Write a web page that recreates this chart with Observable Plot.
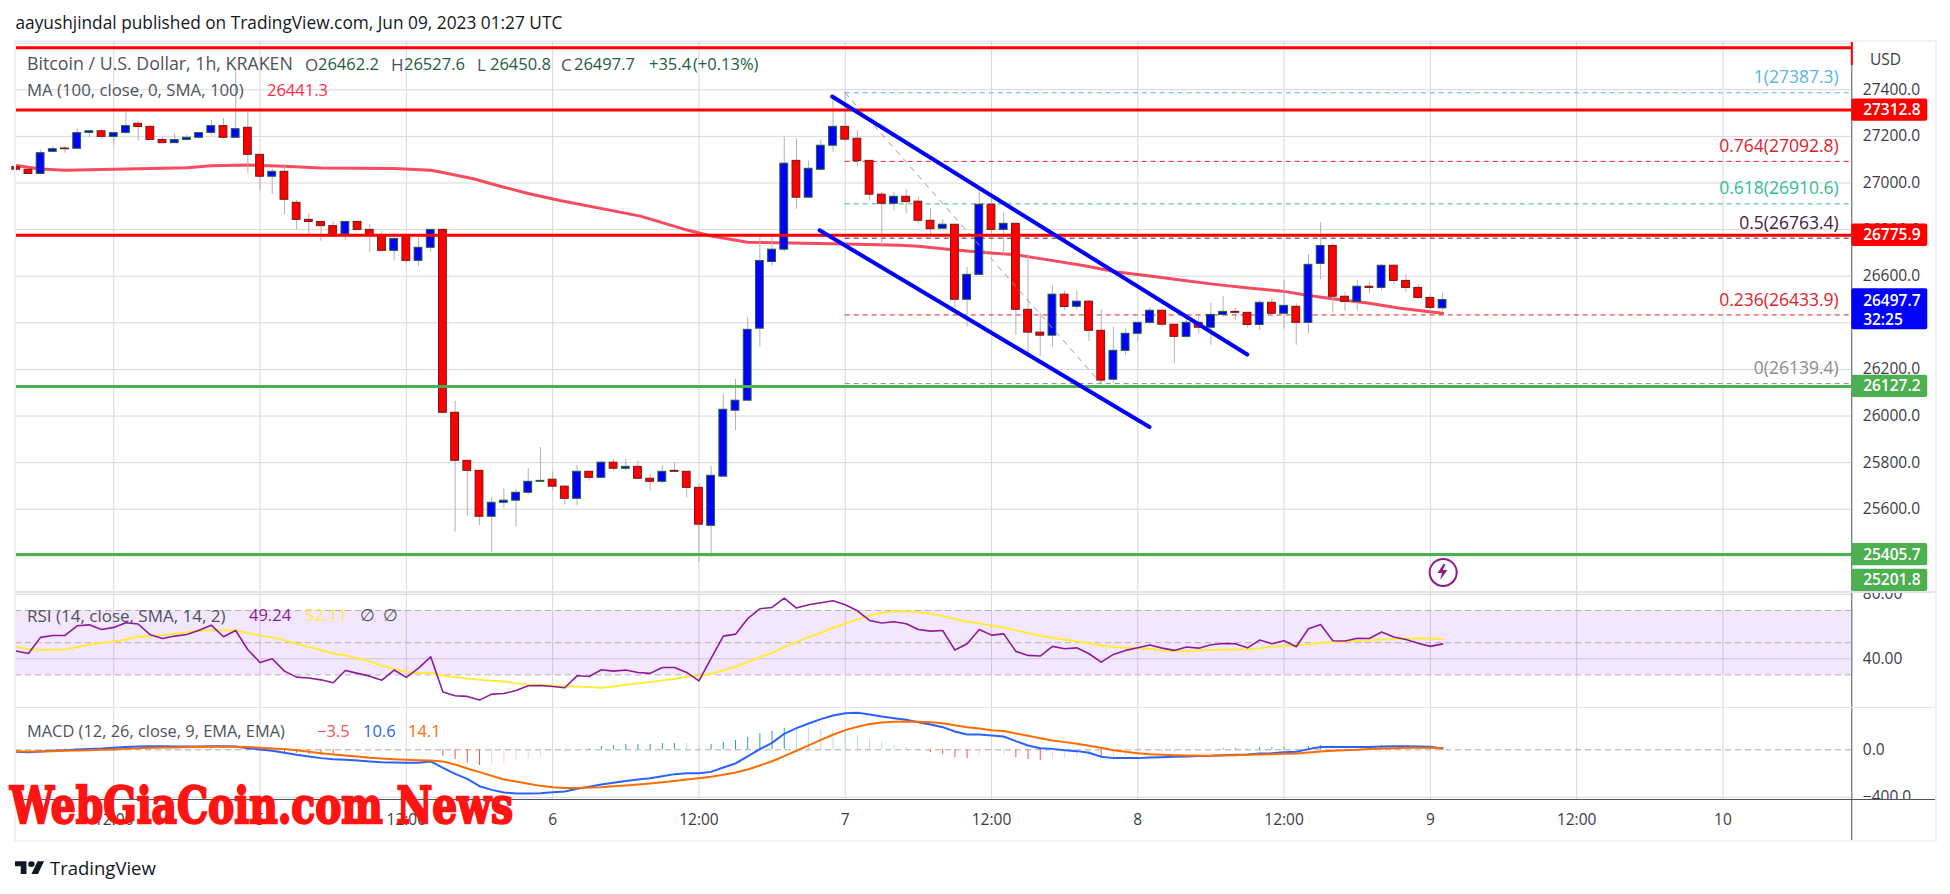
<!DOCTYPE html>
<html><head><meta charset="utf-8">
<script src="https://cdn.jsdelivr.net/npm/d3@7"></script>
<script src="https://cdn.jsdelivr.net/npm/@observablehq/plot@0.6"></script>
<style>
html,body{margin:0;padding:0;background:#fff;}
#page{position:relative;width:1950px;height:894px;overflow:hidden;font-family:"Open Sans",sans-serif;background:#fff;}
#page>svg{position:absolute;left:0;background:transparent;overflow:hidden;}
.t{position:absolute;white-space:nowrap;transform:translateY(-50%);line-height:1;}
.c{position:absolute;}
</style></head><body><div id="page"></div>
<script>
// Hour index: hours since Jun 4 00:00 UTC. First visible candle is hour 4.
const firstHour = 4;
const open = [
27068,27057,27039,27134,27148,27147,27215,27222,27198,27215,
27254,27241,27185,27171,27185,27194,27215,27244,27194,27237,
27121,27027,27048,26915,26842,26833,26815,26779,26833,26799,
26773,26709,26773,26666,26722,26799,26014,25808,25765,25568,
25628,25637,25671,25718,25727,25697,25645,25761,25735,25800,
25774,25782,25731,25718,25765,25761,25692,25529,25740,26023,
26066,26375,26661,26714,27095,26937,27057,27160,27241,27190,
27095,26950,26911,26941,26920,26838,26804,26821,26499,26606,
26907,26799,26825,26456,26358,26345,26521,26469,26491,26366,
26156,26280,26353,26400,26452,26392,26340,26400,26379,26434,
26447,26443,26391,26486,26439,26469,26400,26653,26730,26512,
26490,26555,26550,26645,26580,26550,26507,26462.2];
const close = [
27057,27039,27128,27145,27145,27214,27222,27198,27214,27244,
27240,27185,27171,27184,27194,27214,27244,27194,27231,27121,
27027,27048,26928,26842,26833,26815,26771,26833,26799,26773,
26709,26760,26666,26722,26799,26014,25808,25765,25568,25628,
25637,25671,25718,25722,25697,25645,25761,25735,25800,25774,
25782,25731,25718,25761,25761,25692,25534,25744,26027,26066,
26370,26665,26714,27083,26937,27061,27160,27241,27186,27094,
26950,26911,26941,26918,26838,26802,26821,26499,26606,26907,
26799,26825,26456,26358,26345,26521,26468,26491,26366,26152,
26280,26353,26400,26452,26392,26340,26400,26379,26434,26447,
26443,26391,26486,26439,26473,26400,26649,26730,26512,26490,
26555,26550,26645,26580,26550,26507,26464,26497.7];
const high = [
27070,27060,27142,27157,27157,27232,27225,27228,27214,27304,
27265,27245,27197,27211,27205,27218,27268,27277,27490,27304,
27121,27059,27079,26925,26868,26833,26833,26833,26833,26822,
26791,26782,26782,26762,26799,26803,26063,25808,25765,25651,
25690,25685,25775,25865,25761,25702,25787,25761,25805,25814,
25814,25808,25752,25787,25800,25761,25709,25784,26093,26157,
26422,26768,26768,27197,27190,27093,27183,27361,27387.3,27224,
27095,26960,26960,26972,26940,26891,26842,26821,26638,26968,
26940,26872,26825,26692,26439,26561,26536,26536,26496,26458,
26382,26372,26400,26465,26452,26392,26425,26425,26483,26513,
26464,26443,26496,26503,26582,26482,26693,26831,26739,26529,
26582,26573,26650,26650,26606,26565,26520,26527.6];
const low = [
27050,27039,27039,27131,27128,27145,27194,27188,27162,27208,
27180,27185,27168,27171,27182,27194,27205,27188,27194,27042,
26968,26951,26865,26799,26779,26750,26771,26753,26799,26703,
26709,26665,26653,26642,26703,26014,25502,25571,25531,25416,
25605,25524,25661,25718,25678,25618,25614,25721,25735,25764,
25764,25727,25678,25708,25761,25648,25373,25395,25740,25938,
26066,26296,26644,26704,26887,26937,27051,27133,27176,27068,
26925,26732,26880,26867,26825,26775,26802,26461,26382,26606,
26768,26688,26346,26250,26257,26296,26453,26456,26320,26139.4,
26139.4,26260,26318,26392,26382,26225,26335,26353,26304,26424,
26410,26377,26367,26424,26373,26304,26351,26586,26442,26450,
26450,26524,26536,26566,26532,26502,26447,26450.8];

const maHours = [4,6,8,12,18,20,23,26,29,35,38,39,41.5,43.7,46,48.6,55.2,58.7,61,64,71,76.5,78,80.6,83.4,86,88.9,91.5,94.3,97,99.8,102.5,105.3,108,110,112,115,117.5,121];
const maValues = [27075,27060,27055,27059,27065,27074,27077,27072,27064,27062,27055,27045,27018,26986,26955,26925,26858,26803,26773,26746,26739,26733,26729,26715,26702,26692,26668,26646,26618,26601,26582,26564,26548,26535,26517,26503,26484,26463,26441.3];

const redLevels = [27580, 27312.8, 26775.9];
const greenLevels = [26127.2, 25405.7];
const fibRatios = ["1","0.764","0.618","0.5","0.236","0"];
const fibPrices = [27387.3,27092.8,26910.6,26763.4,26433.9,26139.4];
const fibColors = ["#5bb5e6","#e0222c","#2fbf8f","#3f2340","#e0222c","#8c8c8c"];
const channelUpperHours = [70.93,104.98], channelUpperPrices = [27371,26264];
const channelLowerHours = [69.9,96.96], channelLowerPrices = [26797,25953];
const fibDiagonalHours = [72,93], fibDiagonalPrices = [27387.3,26139.4];
const priceTicks = [25400,25600,25800,26000,26200,26400,26600,26800,27000,27200,27400];
const gridOnlyTicks = [27600];

const rsi = [
44.8,43.3,53.3,54.5,54.5,60.5,61.1,58.2,59.5,62.4,61.6,54.9,52.6,54.1,55.1,57.8,60.9,53.7,57.6,45.6,
37.7,40,32.3,28.6,28,26.9,25.1,32.7,30.9,29.2,26.7,33,28.4,34.2,41.2,19.3,17,16.6,14.3,18,
18.4,20.3,23.2,23.4,22.8,22,29.4,29,33.2,32.3,33,31.5,30.9,34.6,34.6,31.5,26.3,40.2,54.1,55.3,
64.9,71.1,71.9,77.7,71.5,73.6,74.8,76.1,73.6,69.8,63.8,62.2,63,61.8,58.2,57.2,57.6,45.4,49.3,58.2,
54.7,55.5,44.6,42.1,41.7,47.7,46.2,46.8,43.1,37.9,42.7,45.2,46.8,48.5,46.6,45.2,47.3,46.6,48.7,49.5,
49.3,46.8,51.6,49.3,51.2,47.5,58.7,61.3,51.2,51,52.8,52.6,56.6,53.5,52,49.7,47.7,49.24];
const rsiMa = [
47.3,46,45.4,45.6,45.8,47.3,48.7,49.9,50.8,52,53.7,54.1,54.7,55.5,56.4,57.4,57.8,57.8,57.6,56,
54.5,53.3,51.6,49.3,47.3,45.4,43.3,42.1,40.4,38.3,35.6,33.8,31.7,31.1,31.1,29.6,28.6,27.8,26.9,26.3,
25.9,24.7,24,23.8,23.4,22.8,22.8,22.4,22,22.8,23.8,24.7,25.5,26.5,27.6,28.8,29.4,30.7,32.7,35.2,
37.9,41,43.7,47.3,50.4,53.5,56.2,59.3,61.8,64.5,66.9,68.6,69.4,69.6,69,68,66.5,64.7,63.2,62,
60.7,59.5,57.8,56,54.1,53.1,51.8,50.8,49.7,48.3,47.3,46.8,46.6,46,45.2,44.6,44.8,45.2,45.4,45.6,
45.8,45.8,46.6,47.5,48.1,48.3,49.1,49.9,50.4,50.8,51.2,51.4,52,52.2,52.6,52.8,52.6,52.11];
const rsiGrid = [40,80], rsiBands = [30,50,70], rsiTicks = [40,80];

const macd = [
-17,-20,-14,-8,-3,3,8,11,17,23,28,31,31,28,28,28,31,31,28,14,
3,-8,-25,-42,-56,-70,-79,-84,-90,-98,-104,-107,-110,-110,-98,-152,-203,-245,-307,-338,
-360,-369,-369,-366,-357,-352,-329,-312,-293,-278,-262,-250,-239,-222,-205,-197,-197,-186,-149,-115,
-56,6,59,135,183,222,259,290,309,312,298,281,267,253,233,214,191,155,129,129,
120,112,73,37,14,8,-3,-11,-25,-59,-70,-70,-70,-65,-62,-59,-56,-53,-51,-45,
-42,-39,-31,-28,-20,-17,6,23,23,23,23,23,28,31,31,28,25,10.6];
const signal = [
-11,-14,-14,-11,-8,-6,-3,0,3,8,14,17,20,20,23,23,25,25,25,23,
17,11,6,-3,-17,-28,-39,-48,-56,-67,-73,-79,-84,-87,-90,-98,-124,-158,-188,-219,
-250,-267,-287,-304,-315,-323,-323,-318,-315,-307,-301,-293,-284,-273,-262,-250,-239,-228,-211,-191,
-166,-132,-96,-53,-8,37,84,127,166,194,217,231,236,239,236,233,225,208,191,180,
166,158,138,118,98,79,65,51,34,17,-3,-17,-28,-37,-42,-45,-48,-51,-51,-48,
-45,-42,-39,-37,-34,-31,-23,-14,-8,-3,0,6,11,14,17,17,17,14.1];
const hist = [
-3,-3,3,6,6,8,8,8,11,11,11,11,8,8,6,3,8,6,3,-6,
-11,-20,-25,-28,-42,-42,-39,-34,-31,-25,-25,-25,-20,-14,-8,-53,-82,-113,-132,-118,
-113,-96,-79,-62,-42,-28,-8,8,28,37,45,45,45,53,53,53,34,45,62,79,
104,138,155,180,169,180,172,163,172,121,87,62,37,20,3,-23,-39,-68,-73,-56,
-59,-48,-65,-82,-90,-82,-73,-65,-59,-70,-65,-56,-37,-31,-25,-23,-14,-11,-3,11,
11,8,20,20,20,8,28,37,34,23,11,8,34,14,11,8,-3,-3.5];
// T rising above zero, L falling above zero, R falling below zero, P rising below zero
const histTones = ("PPTTTTTTTTTTLLLLTLLR"+"RRRRRRRPPPPPPPPRRRRP"+"PPPPPPPTTTTTTTTLLTTT"+"TTTTLLLLLLLLLLRRRRRP"+"PPRRRPPPPRPPPPPPPPPT"+"TLTTTLTTLLLLTLLLRR").split("");
const macdTicks = [-400,0];
const xTickHours = [12,24,36,48,60,72,84,96,108,120,132,144];
const xTickLabels = ["12:00","5","12:00","6","12:00","7","12:00","8","12:00","9","12:00","10"];

const axisLabels = [
 {price:27312.8,text:"27312.8",color:"#ff0000"},
 {price:26775.9,text:"26775.9",color:"#ff0000"},
 {price:26127.2,text:"26127.2",color:"#4caf50"},
 {price:25405.7,text:"25405.7",color:"#4caf50"},
 {price:25295,text:"25201.8",color:"#4caf50"}];

const toneColors = {T:"#26a69a",L:"#b2dfdb",R:"#ef5350",P:"#ffcdd2"};
const font = '"Open Sans",sans-serif';
const xStart = 3.94, xEnd = 154.57, labelEnd = 160.8, textX = 155.5, fibEndX = 153.5;
const candles = open.map((o,k)=>({h:firstHour+k,o,c:close[k],hi:high[k],lo:low[k]}));
const seq = a=>a.map((v,k)=>({h:firstHour+k,v}));
const zip = (hs,vs)=>hs.map((h,k)=>({h,v:vs[k]}));
const page = document.getElementById("page");
const gridColor = "#d8d8d8", axisColor = "#50535e", tickColor="#3a3c44";

function pane(top,height,yDomain,marks){
  const svg = Plot.plot({width:1950,height,marginLeft:15,marginRight:98.7,marginTop:0,marginBottom:0,
    x:{domain:[xStart,xEnd],axis:null},
    y:{domain:yDomain,axis:null},
    color:{type:"identity"},
    style:{fontFamily:font,background:"transparent",overflow:"hidden"},
    marks});
  svg.style.top = top+"px";
  page.appendChild(svg);
}
const vGrid = Plot.ruleX(xTickHours,{stroke:gridColor,strokeWidth:1});
const vAxis = Plot.ruleX([xEnd],{stroke:axisColor,strokeWidth:1});
const yAxis = (vals,fmt)=>Plot.axisY(vals,{anchor:"right",tickSize:0,tickPadding:11,fontSize:15.5,fill:tickColor,tickFormat:fmt,label:null});

// main price pane
pane(40,552,[25243,27611.5],[
  vGrid,
  Plot.ruleY(priceTicks.concat(gridOnlyTicks),{stroke:gridColor,strokeWidth:1}),
  yAxis(priceTicks,d3.format(".1f")),
  Plot.line(zip(maHours,maValues),{x:"h",y:"v",stroke:"#f7374f",strokeWidth:3,strokeOpacity:0.9}),
  Plot.ruleY(fibPrices.map((p,k)=>({p,k})),{y:"p",x1:72,x2:xEnd,stroke:d=>fibColors[d.k],strokeWidth:1,strokeDasharray:"5,4"}),
  Plot.ruleX(candles,{x:"h",y1:"lo",y2:"hi",stroke:"#b2b2b2",strokeWidth:1}),
  Plot.rect(candles,{x1:d=>d.h-0.32,x2:d=>d.h+0.32,y1:d=>Math.min(d.o,d.c),y2:d=>Math.max(d.o,d.c),
    fill:d=>d.c>=d.o?"#0000ff":"#ff0000",stroke:d=>d.c>=d.o?"#1f5f3a":"#7a1515",strokeWidth:1}),
  Plot.line(zip(fibDiagonalHours,fibDiagonalPrices),{x:"h",y:"v",stroke:"#9a9a9a",strokeWidth:1,strokeDasharray:"5,6"}),
  Plot.ruleY(redLevels,{x1:xStart,x2:xEnd,stroke:"#ff0000",strokeWidth:3}),
  Plot.ruleY(greenLevels,{x1:xStart,x2:xEnd,stroke:"#4caf50",strokeWidth:3}),
  Plot.line(zip(channelUpperHours,channelUpperPrices),{x:"h",y:"v",stroke:"#0000ff",strokeWidth:4,strokeLinecap:"round"}),
  Plot.line(zip(channelLowerHours,channelLowerPrices),{x:"h",y:"v",stroke:"#0000ff",strokeWidth:4,strokeLinecap:"round"}),
  Plot.text(fibPrices.map((p,k)=>({p,k})),{x:fibEndX,y:"p",dy:-15,textAnchor:"end",fontSize:17.5,
    text:d=>`${fibRatios[d.k]}(${fibPrices[d.k]})`,fill:d=>fibColors[d.k]}),
  Plot.dot([{h:121.05,p:25329}],{x:"h",y:"p",r:13.5,stroke:"#8a1a8e",strokeWidth:2,fill:"#fff"}),
  vAxis,
  Plot.ruleX([xEnd],{y1:27504,y2:27611.5,stroke:"#ff0000",strokeWidth:2}),
  Plot.rect(axisLabels,{x1:xEnd,x2:labelEnd,y1:d=>d.price-48,y2:d=>d.price+48,fill:"color",r:2}),
  Plot.text(axisLabels,{x:textX,y:"price",text:"text",textAnchor:"start",fill:"#fff",fontSize:15.5,fontWeight:600}),
  Plot.rect([{a:26370,b:26546}],{x1:xEnd,x2:labelEnd,y1:"a",y2:"b",fill:"#0000ff",r:2}),
  Plot.text([{p:26493,s:"26497.7"},{p:26413,s:"32:25"}],{x:textX,y:"p",text:"s",textAnchor:"start",fill:"#fff",fontSize:15.5,fontWeight:600})
]);

// RSI pane
pane(592,115,[9.7,81.2],[
  vGrid,
  Plot.ruleY(rsiGrid,{stroke:gridColor,strokeWidth:1}),
  yAxis(rsiTicks,d3.format(".2f")),
  Plot.rect([{a:30,b:70}],{x1:xStart,x2:xEnd,y1:"a",y2:"b",fill:"#8e24f0",fillOpacity:0.11}),
  Plot.ruleY(rsiBands,{stroke:"#b4aeb8",strokeWidth:1,strokeDasharray:"6,4",x1:xStart,x2:xEnd}),
  Plot.line(seq(rsiMa),{x:"h",y:"v",stroke:"#ffeb3b",strokeWidth:2}),
  Plot.line(seq(rsi),{x:"h",y:"v",stroke:"#8e1b9b",strokeWidth:1.6}),
  vAxis
]);

// MACD pane
pane(707,92,[-419,357],[
  vGrid,
  Plot.ruleY([-400],{stroke:gridColor,strokeWidth:1}),
  Plot.ruleY([0],{stroke:"#a8a8a8",strokeWidth:1,strokeDasharray:"6,4"}),
  yAxis(macdTicks,d3.format(".1f")),
  Plot.ruleX(seq(hist).map((d,k)=>({...d,t:histTones[k]})),{x:"h",y1:0,y2:"v",stroke:d=>toneColors[d.t],strokeWidth:1}),
  Plot.line(seq(macd),{x:"h",y:"v",stroke:"#2962ff",strokeWidth:2}),
  Plot.line(seq(signal),{x:"h",y:"v",stroke:"#ff6d00",strokeWidth:2}),
  vAxis
]);

// time axis strip
pane(799,42,[0,1],[
  Plot.text(xTickHours.map((h,k)=>({h,s:xTickLabels[k]})),{x:"h",frameAnchor:"middle",text:"s",fontSize:15.5,fill:tickColor}),
  vAxis
]);

function chrome(x,y,w,h,color){const d=document.createElement("div");d.className="c";d.style.cssText=`left:${x}px;top:${y}px;width:${w}px;height:${h}px;background:${color}`;page.appendChild(d);}
chrome(14,40,1922,2,"#eff1f6");chrome(14,840,1922,2,"#eff1f6");chrome(14,40,1.5,802,"#eff1f6");chrome(1934.5,40,2,802,"#eff1f6");
chrome(15,591,1920,1.5,"#e0e3eb");chrome(15,706.5,1920,1.5,"#e0e3eb");chrome(15,799,1920,1,axisColor);

function label(x,y,s,color,size=16,weight=400){const d=document.createElement("div");d.className="t";d.textContent=s;
  d.style.cssText=`left:${x}px;top:${y}px;color:${color};font-size:${size}px;font-weight:${weight}`;page.appendChild(d);}
const grey="#4f525c",green="#1e5e3e";
label(15.5,23,"aayushjindal published on TradingView.com, Jun 09, 2023 01:27 UTC","#131722",17.3);
label(27,63.5,"Bitcoin / U.S. Dollar, 1h, KRAKEN",grey,17.8);
[["O","26462.2",305],["H","26527.6",391],["L","26450.8",477],["C","26497.7",561]].forEach(([a,b,x])=>{label(x,63.5,a,grey,17);label(x+13,63.5,b,green,16.5);});
label(649,63.5,"+35.4",green,16.5);label(693,63.5,"(+0.13%)",green,16.5);
label(27,90,"MA (100, close, 0, SMA, 100)",grey,16.8);label(267,90,"26441.3","#f7304b",16.5);
label(1870,60,"USD",tickColor,15.5);
label(27,615,"RSI (14, close, SMA, 14, 2)",grey,17);label(249,615,"49.24","#8e1b9b",16.5);label(305,615,"52.11","#ffeb3b",16.5);label(360,615,"∅",grey,16.5);label(383,615,"∅",grey,16.5);
label(27,731,"MACD (12, 26, close, 9, EMA, EMA)",grey,16.4);label(317,731,"−3.5","#f7525f",16.5);label(363,731,"10.6","#2962ff",16.5);label(408,731,"14.1","#ff6d00",16.5);

const ns="http://www.w3.org/2000/svg";
const deco=document.createElementNS(ns,"svg");deco.setAttribute("width",1950);deco.setAttribute("height",894);deco.style.top="0";deco.style.pointerEvents="none";
deco.innerHTML=`<path transform="translate(1436.5,564) scale(1.0)" d="M7 0 L1 9 L5.5 9 L3.5 16 L11 6 L6.3 6 L9 0 Z" fill="#8a1a8e"/>
<text x="10" y="823" font-family="DejaVu Serif" font-weight="700" font-size="50" fill="#ff1414" stroke="#ff1414" stroke-width="2.4" textLength="503" lengthAdjust="spacingAndGlyphs">WebGiaCoin.com News</text>
<g transform="translate(15,859) scale(0.82,0.72)"><path d="M14 21H7V10H0V3h14v18zM28 21h-8l7.5-18h8L28 21z" fill="#131722"/><circle cx="20" cy="7" r="4" fill="#131722"/></g>`;
page.appendChild(deco);
label(50,868,"TradingView","#131722",18.5);
</script></body></html>
